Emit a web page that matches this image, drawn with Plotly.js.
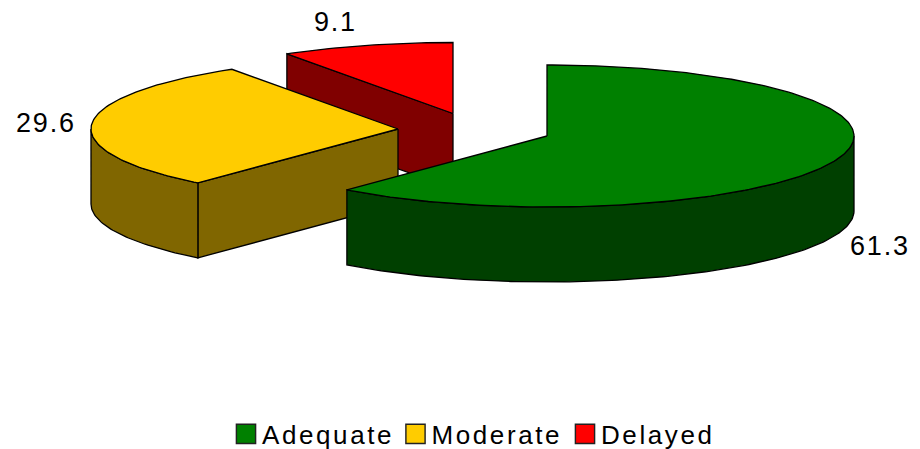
<!DOCTYPE html>
<html><head><meta charset="utf-8">
<script src="https://cdn.plot.ly/plotly-3.0.1.min.js"></script>
<style>
html,body{margin:0;padding:0;background:#fff}
.legendtext{letter-spacing:2.6px}
.annotation-text{letter-spacing:1.8px}
.legendpoints path.scatterpts{transform:translate(24px,0) scale(1.2)}
</style></head><body><div id="chart" style="width:920px;height:449px"></div>
<script>
const categories = ['Adequate', 'Moderate', 'Delayed'];
const values = [61.3, 29.6, 9.1];
const topColors = ['#008000', '#FFCC00', '#FF0000'];
const wallColors = ['#004000', '#806600', '#800000'];
const RX = 307, RY = 71, DEPTH = 75;
const centres = [[547,136],[398,129],[453,113.5]];
const labelPos = [[880,246],[46,123],[335,22]];

const total = values.reduce((a,b)=>a+b,0);
const spans = []; let acc = 0;
values.forEach(v=>{ spans.push([acc, acc+v/total*360]); acc += v/total*360; });
const pt = (c,a,dz=0)=>{ const r=a*Math.PI/180; return [c[0]+RX*Math.sin(r), c[1]-RY*Math.cos(r)+dz]; };
function arc(c,a0,a1,dz=0){ const n=Math.max(2,Math.ceil(Math.abs(a1-a0))); const o=[]; for(let i=0;i<=n;i++) o.push(pt(c,a0+(a1-a0)*i/n,dz)); return o; }
function poly(points,fill){ const p=points.concat([points[0]]); return {type:'scatter',mode:'lines',x:p.map(q=>q[0]),y:p.map(q=>q[1]),fill:'toself',fillcolor:fill,line:{color:'#000',width:1.3,shape:'linear'},hoverinfo:'skip',showlegend:false}; }
function flat(c,a){ const e=pt(c,a); return [[c[0],c[1]],e,[e[0],e[1]+DEPTH],[c[0],c[1]+DEPTH]]; }
function sector(c,a0,a1){ return [[c[0],c[1]]].concat(arc(c,a0,a1)); }
function band(c,a0,a1){ return arc(c,a0,a1).concat(arc(c,a1,a0,DEPTH)); }

const traces = [];
traces.push(poly(flat(centres[2],spans[2][0]),wallColors[2]));
traces.push(poly(sector(centres[2],spans[2][0],spans[2][1]),topColors[2]));
traces.push(poly(flat(centres[1],spans[1][0]),wallColors[1]));
traces.push(poly(band(centres[1],spans[1][0],270),wallColors[1]));
traces.push(poly(sector(centres[1],spans[1][0],spans[1][1]),topColors[1]));
traces.push(poly(band(centres[0],90,spans[0][1]),wallColors[0]));
traces.push(poly(sector(centres[0],spans[0][0],spans[0][1]),topColors[0]));
categories.forEach((n,i)=>traces.push({type:'scatter',mode:'markers',name:n,x:[null],y:[null],marker:{symbol:'square',size:18,color:topColors[i],line:{color:'#222',width:1.2}},hoverinfo:'skip'}));

const layout = {
  width:920,height:449,margin:{l:0,r:0,t:0,b:0,autoexpand:false},paper_bgcolor:'#fff',plot_bgcolor:'#fff',
  xaxis:{range:[0,920],visible:false,fixedrange:true},
  yaxis:{range:[449,0],visible:false,fixedrange:true},
  font:{family:'"Liberation Sans", Arial, sans-serif',color:'#000'},
  showlegend:true,
  legend:{orientation:'h',x:0.2413,xanchor:'left',y:0.0334,yanchor:'middle',font:{size:26,color:'#000'},itemwidth:30,entrywidth:124.5,entrywidthmode:'pixels',bgcolor:'rgba(0,0,0,0)',traceorder:'normal',itemclick:false,itemdoubleclick:false},
  annotations:values.map((v,i)=>({x:labelPos[i][0],y:labelPos[i][1],xref:'x',yref:'y',text:v.toFixed(1),showarrow:false,font:{size:27,color:'#000'},xanchor:'center',yanchor:'middle'}))
};
Plotly.newPlot('chart',traces,layout,{displayModeBar:false});
</script></body></html>
